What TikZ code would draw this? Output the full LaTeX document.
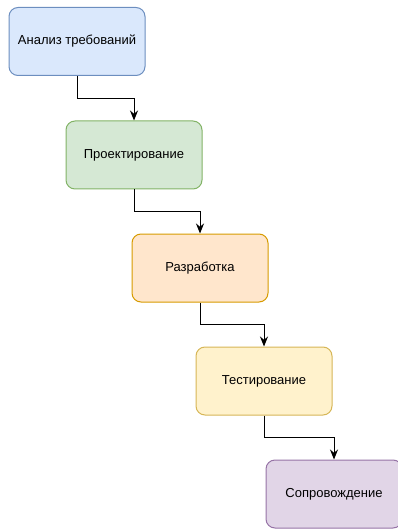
\documentclass[tikz,border=0pt]{standalone}
\usepackage{fontspec}
\setmainfont{Liberation Sans}
\usepackage{tikz}
\definecolor{BlueFill}{HTML}{dae8fc}
\definecolor{BlueLine}{HTML}{6c8ebf}
\definecolor{GreenFill}{HTML}{d5e8d4}
\definecolor{GreenLine}{HTML}{82b366}
\definecolor{OrangeFill}{HTML}{ffe6cc}
\definecolor{OrangeLine}{HTML}{d79b00}
\definecolor{YellowFill}{HTML}{fff2cc}
\definecolor{YellowLine}{HTML}{d6b656}
\definecolor{PurpleFill}{HTML}{e1d5e7}
\definecolor{PurpleLine}{HTML}{9673a6}
\usetikzlibrary{arrows.meta,positioning,calc}

\begin{document}
\begin{tikzpicture}[
x=1pt, y=-1pt,
stage/.style={
	rectangle,
	rounded corners=9pt,
	line width=1pt,
	minimum width=136pt,
	minimum height=68pt,
	inner sep=0pt,
	font=\fontsize{13}{15}\selectfont
},
flow/.style={
	line width=1pt,
	-{Stealth[length=10pt,width=8pt]}
},
]

\useasboundingbox (0,0) rectangle (397,529);

\node[stage, fill=BlueFill, draw=BlueLine] (ana) at (77,41.5) {Анализ требований};
\node[stage, fill=GreenFill, draw=GreenLine] (proj) at (134,155) {Проектирование};
\node[stage, fill=OrangeFill, draw=OrangeLine] (dev) at (200,268) {Разработка};
\node[stage, fill=YellowFill, draw=YellowLine] (test) at (264,381) {Тестирование};
\node[stage, fill=PurpleFill, draw=PurpleLine] (supp) at (334,494) {Сопровождение};

\draw[flow] (ana.south) |- ($(ana.south)!.5!(proj.north)$) -| (proj.north);
\draw[flow] (proj.south) |- ($(proj.south)!.5!(dev.north)$) -| (dev.north);
\draw[flow] (dev.south) |- ($(dev.south)!.5!(test.north)$) -| (test.north);
\draw[flow] (test.south) |- ($(test.south)!.5!(supp.north)$) -| (supp.north);

\end{tikzpicture}
\end{document}
